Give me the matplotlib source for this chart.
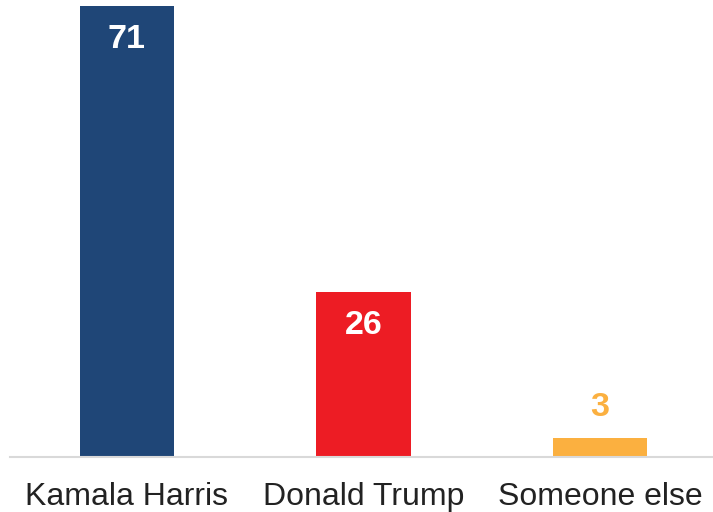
import matplotlib.pyplot as plt

candidates = ["Kamala Harris", "Donald Trump", "Someone else"]
shares = [71, 26, 3]
bar_colors = ["#1f4677", "#ed1c24", "#fbb040"]
label_colors = ["white", "white", "#fbb040"]

plt.rcParams['font.family'] = ['Liberation Sans', 'DejaVu Sans']

fig = plt.figure(figsize=(7.13, 5.12), dpi=100)
ax = fig.add_axes([10/713, 55/512, 703/713, 451/512])

x = range(len(candidates))
ax.bar(x, shares, width=0.40, color=bar_colors)

# value labels: inside the bar for big values, above it for small ones
for i, v in enumerate(shares):
    if v > 10:
        off = -24
    else:
        off = 22
    ax.annotate(str(v), (i, v), xytext=(0, off), textcoords='offset points',
                ha='center', va='center', fontsize=24.5, fontweight='bold',
                color=label_colors[i])

ax.set_xlim(-0.494, 2.477)
ax.set_ylim(0, 71)
ax.set_xticks(list(x))
ax.set_xticklabels(candidates, fontsize=23, color='#222222')
ax.tick_params(axis='x', length=0, pad=18)
ax.set_yticks([])
for s in ['top', 'right', 'left']:
    ax.spines[s].set_visible(False)
ax.spines['bottom'].set_color('#d9d9d9')
ax.spines['bottom'].set_linewidth(1.5)

fig.savefig("out.png", dpi=100)
